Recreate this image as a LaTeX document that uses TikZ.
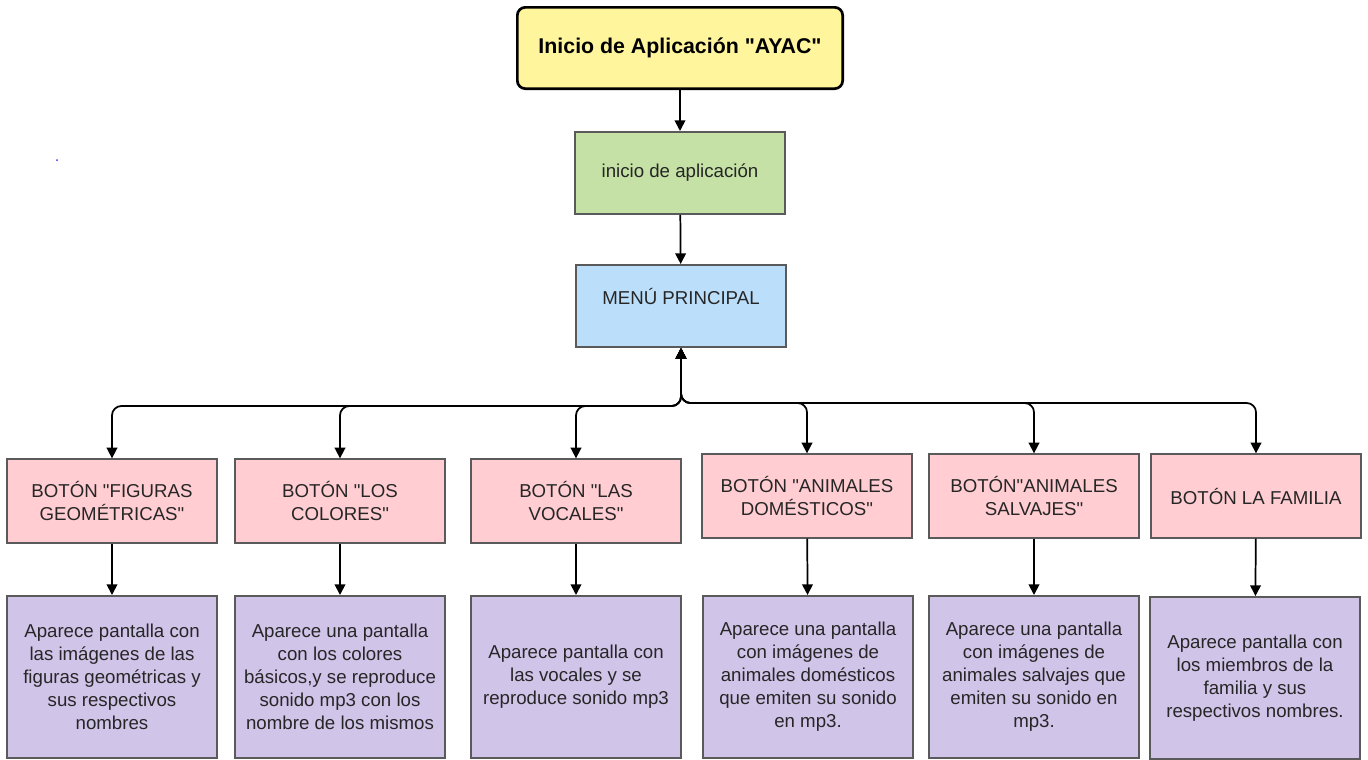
\documentclass[tikz,border=0pt]{standalone}
\usepackage{fontspec}
\setmainfont{Liberation Sans}
\usetikzlibrary{arrows.meta}
\definecolor{amarillo}{HTML}{FFF59D}
\definecolor{verde}{HTML}{C5E1A5}
\definecolor{azul}{HTML}{BBDEFB}
\definecolor{rosa}{HTML}{FFCDD2}
\definecolor{lila}{HTML}{D1C4E9}
\definecolor{borde}{HTML}{5A5A5A}
\definecolor{texto}{HTML}{262626}
\newcommand{\cq}{\textquotedbl{}}
\begin{document}
\begin{tikzpicture}[x=0.75pt, y=-0.75pt,
  font=\fontsize{14}{17.25}\selectfont,
  caja/.style={draw=borde, line width=1.5pt, align=center, text=texto, inner sep=0pt},
  titulo/.style={draw=black, fill=amarillo, line width=2pt, rounded corners=6pt, minimum width=244pt, minimum height=61pt, font=\fontsize{16}{19}\selectfont\bfseries},
  medio/.style={caja, minimum width=157pt, minimum height=61.5pt},
  boton/.style={caja, fill=rosa, minimum width=157.5pt, minimum height=62.5pt},
  detalle/.style={caja, fill=lila, minimum width=157.5pt, minimum height=121.5pt},
  flecha/.style={line width=1.3pt, -{Triangle[length=8pt, width=8pt]}},
  bus/.style={line width=1.3pt, rounded corners=7pt, {Triangle[length=8pt, width=8pt]}-{Triangle[length=8pt, width=8pt]}}]
\useasboundingbox (0,0) rectangle (1368,760);
% Inicio
\node[titulo] (ayac) at (680,48) {Inicio de Aplicación \cq AYAC\cq};
\node[medio, fill=verde] (app) at (680,173) {inicio de aplicación};
\node[medio, fill=azul, text depth=15pt] (menu) at (681,306) {MENÚ PRINCIPAL};
\fill[blue!80] (57,160) circle (1);
% Botones
\node[boton] (b1) at (112,501) {BOTÓN \cq FIGURAS\\GEOMÉTRICAS\cq};
\node[boton] (b2) at (340,501) {BOTÓN \cq LOS\\COLORES\cq};
\node[boton] (b3) at (576,501) {BOTÓN \cq LAS\\VOCALES\cq};
\node[boton] (b4) at (807,496) {BOTÓN \cq ANIMALES\\DOMÉSTICOS\cq};
\node[boton] (b5) at (1034,496) {BOTÓN\cq ANIMALES\\SALVAJES\cq};
\node[boton] (b6) at (1256,496) {BOTÓN LA FAMILIA};
% Pantallas
\node[detalle] (d1) at (112,677) {Aparece pantalla con\\las imágenes de las\\figuras geométricas y\\sus respectivos\\nombres};
\node[detalle] (d2) at (340,677) {Aparece una pantalla\\con los colores\\básicos,y se reproduce\\sonido mp3 con los\\nombre de los mismos};
\node[detalle] (d3) at (576,677) {Aparece pantalla con\\las vocales y se\\reproduce sonido mp3};
\node[detalle] (d4) at (808,677) {Aparece una pantalla\\con imágenes de\\animales domésticos\\que emiten su sonido\\en mp3.};
\node[detalle] (d5) at (1034,677) {Aparece una pantalla\\con imágenes de\\animales salvajes que\\emiten su sonido en\\mp3.};
\node[detalle] (d6) at (1255,678) {Aparece pantalla con\\los miembros de la\\familia y sus\\respectivos nombres.};
% Conexiones
\draw[flecha] (ayac) -- (app);
\draw[flecha] (app) -- (menu);
\draw[bus] (menu.south) -- ++(0,58) -| (b1.north);
\draw[bus] (menu.south) -- ++(0,58) -| (b2.north);
\draw[bus] (menu.south) -- ++(0,58) -| (b3.north);
\draw[bus] (menu.south) -- ++(0,55) -| (b4.north);
\draw[bus] (menu.south) -- ++(0,55) -| (b5.north);
\draw[bus] (menu.south) -- ++(0,55) -| (b6.north);
\draw[flecha] (b1) -- (d1);
\draw[flecha] (b2) -- (d2);
\draw[flecha] (b3) -- (d3);
\draw[flecha] (b4) -- (d4);
\draw[flecha] (b5) -- (d5);
\draw[flecha] (b6) -- (d6);
\end{tikzpicture}
\end{document}
